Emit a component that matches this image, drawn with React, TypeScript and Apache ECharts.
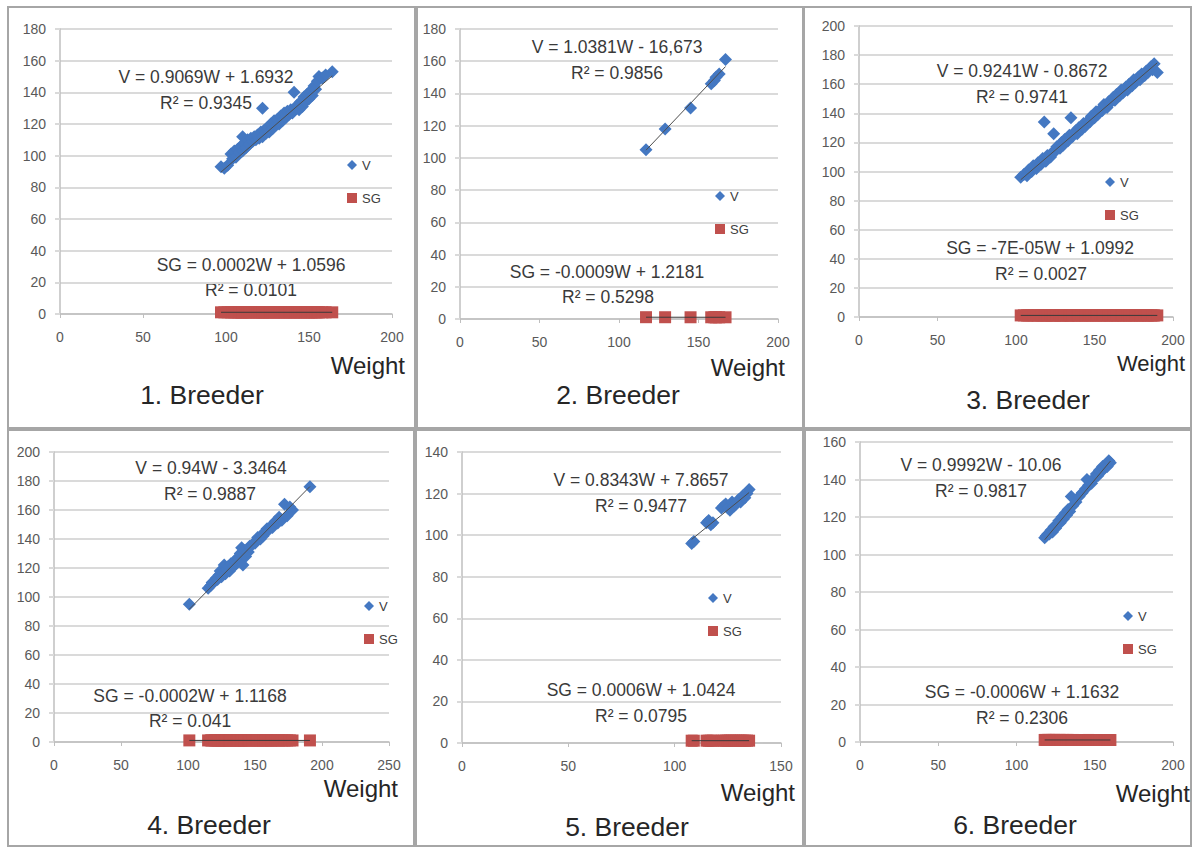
import React, { useEffect, useRef } from "react";
import * as echarts from "echarts";

// [weight, V, SG]
type Sample = [number, number, number];

const breeder1: Sample[] = [
  [97, 93, 1.07], [99, 92, 1.05], [101, 94, 1.08], [103, 101, 1.06], [104, 98, 1.04], [105, 103, 1.09],
  [106, 99, 1.06], [107, 104, 1.05], [108, 102, 1.08], [109, 106, 1.07], [110, 112, 1.03], [110, 103, 1.06],
  [111, 108, 1.09], [112, 105, 1.05], [113, 110, 1.08], [114, 107, 1.06], [115, 111, 1.04], [116, 109, 1.07],
  [117, 112, 1.09], [118, 110, 1.05], [119, 113, 1.08], [120, 111, 1.06], [121, 115, 1.07], [122, 130, 1.04],
  [122, 112, 1.09], [123, 116, 1.06], [124, 114, 1.08], [125, 118, 1.05], [126, 115, 1.07], [127, 120, 1.09],
  [128, 117, 1.06], [129, 122, 1.04], [130, 119, 1.08], [131, 123, 1.07], [132, 120, 1.05], [133, 125, 1.09],
  [134, 122, 1.06], [135, 127, 1.08], [136, 124, 1.05], [137, 128, 1.07], [138, 126, 1.09], [139, 129, 1.06],
  [140, 127, 1.04], [141, 140, 1.08], [142, 130, 1.07], [143, 132, 1.05], [144, 129, 1.09], [145, 134, 1.06],
  [146, 131, 1.08], [147, 137, 1.05], [148, 134, 1.07], [149, 139, 1.09], [150, 136, 1.06], [151, 141, 1.04],
  [152, 138, 1.08], [153, 144, 1.07], [154, 142, 1.05], [155, 147, 1.09], [156, 150, 1.06], [158, 149, 1.08],
  [160, 151, 1.07], [164, 153, 1.06],
];

const breeder2: Sample[] = [
  [117, 105, 1.12], [129, 118, 1.10], [145, 131, 1.08], [158, 146, 1.07],
  [160, 148, 1.08], [161, 150, 1.06], [163, 152, 1.07], [167, 161, 1.06],
];

const breeder3: Sample[] = [
  [103, 96, 1.09], [105, 98, 1.11], [107, 97, 1.08], [108, 101, 1.10], [110, 100, 1.12], [111, 104, 1.07],
  [113, 102, 1.09], [114, 106, 1.11], [116, 105, 1.08], [117, 109, 1.10], [118, 134, 1.06], [119, 107, 1.12],
  [120, 111, 1.09], [122, 110, 1.07], [123, 113, 1.11], [124, 126, 1.10], [125, 114, 1.08], [126, 117, 1.12],
  [128, 116, 1.09], [129, 120, 1.07], [130, 118, 1.11], [131, 122, 1.10], [133, 121, 1.08], [134, 125, 1.09],
  [135, 137, 1.12], [136, 124, 1.07], [138, 128, 1.10], [139, 126, 1.11], [140, 130, 1.08], [142, 129, 1.09],
  [143, 133, 1.12], [144, 131, 1.07], [146, 135, 1.10], [147, 134, 1.08], [148, 138, 1.11], [150, 137, 1.09],
  [151, 141, 1.07], [152, 139, 1.12], [154, 143, 1.10], [155, 142, 1.08], [156, 146, 1.09], [158, 144, 1.11],
  [159, 148, 1.07], [160, 147, 1.10], [162, 151, 1.12], [163, 149, 1.08], [164, 153, 1.09], [166, 152, 1.11],
  [167, 156, 1.07], [168, 154, 1.10], [170, 158, 1.08], [171, 156, 1.12], [172, 160, 1.09], [174, 159, 1.07],
  [175, 163, 1.11], [176, 161, 1.10], [178, 165, 1.08], [179, 163, 1.09], [180, 167, 1.12], [182, 166, 1.07],
  [183, 169, 1.10], [184, 168, 1.08], [186, 172, 1.11], [187, 170, 1.09], [188, 174, 1.07], [190, 168, 1.10],
];

const breeder4: Sample[] = [
  [101, 95, 1.10], [115, 106, 1.09], [117, 108, 1.11], [118, 110, 1.08], [120, 111, 1.10], [121, 113, 1.12],
  [122, 112, 1.09], [123, 115, 1.07], [124, 118, 1.11], [125, 114, 1.10], [126, 117, 1.08], [127, 122, 1.12],
  [128, 116, 1.09], [129, 119, 1.10], [130, 121, 1.07], [131, 118, 1.11], [132, 123, 1.09], [134, 121, 1.08],
  [135, 125, 1.12], [136, 123, 1.10], [137, 127, 1.09], [138, 126, 1.07], [139, 130, 1.11], [140, 134, 1.08],
  [141, 122, 1.10], [142, 132, 1.09], [143, 128, 1.12], [145, 131, 1.07], [146, 135, 1.10], [148, 136, 1.08],
  [150, 137, 1.11], [151, 139, 1.09], [152, 141, 1.07], [154, 140, 1.10], [155, 143, 1.12], [156, 142, 1.08],
  [158, 145, 1.09], [159, 147, 1.11], [160, 146, 1.07], [162, 149, 1.10], [163, 148, 1.08], [165, 152, 1.09],
  [167, 151, 1.11], [168, 155, 1.07], [170, 153, 1.10], [172, 164, 1.08], [174, 156, 1.09], [176, 162, 1.11],
  [178, 160, 1.07], [191, 176, 1.08],
];

const breeder5: Sample[] = [
  [108, 96, 1.11], [109, 97, 1.10], [115, 106, 1.12], [116, 107, 1.09], [117, 105, 1.11], [118, 106, 1.10],
  [122, 113, 1.13], [123, 114, 1.11], [124, 115, 1.12], [125, 113, 1.10], [126, 112, 1.13], [127, 116, 1.11],
  [128, 114, 1.12], [129, 115, 1.14], [130, 117, 1.11], [131, 116, 1.13], [132, 119, 1.12], [133, 118, 1.10],
  [134, 120, 1.13], [135, 122, 1.12],
];

const breeder6: Sample[] = [
  [118, 109, 1.10], [119, 110, 1.09], [120, 111, 1.11], [121, 111, 1.10], [122, 113, 1.08], [123, 112, 1.10],
  [124, 115, 1.09], [125, 114, 1.11], [126, 116, 1.08], [127, 118, 1.09], [128, 117, 1.10], [129, 120, 1.07],
  [130, 119, 1.09], [131, 122, 1.08], [132, 121, 1.10], [133, 124, 1.09], [134, 123, 1.07], [135, 131, 1.08],
  [136, 126, 1.09], [138, 128, 1.07], [140, 131, 1.08], [142, 133, 1.06], [144, 135, 1.08], [145, 140, 1.07],
  [146, 137, 1.09], [147, 139, 1.06], [148, 138, 1.07], [150, 141, 1.08], [151, 143, 1.06], [152, 142, 1.07],
  [153, 145, 1.05], [154, 144, 1.08], [155, 147, 1.06], [156, 146, 1.07], [157, 148, 1.05], [158, 147, 1.07],
  [159, 150, 1.06], [160, 149, 1.05],
];

const breeders: Sample[][] = [breeder1, breeder2, breeder3, breeder4, breeder5, breeder6];

const panelTitles = ["1. Breeder", "2. Breeder", "3. Breeder", "4. Breeder", "5. Breeder", "6. Breeder"];
const xMaxes = [200, 200, 200, 250, 150, 200];
const yMaxes = [180, 180, 200, 200, 140, 160];
const xInterval = 50;
const yInterval = 20;

// [slope, intercept] of the trendlines printed on the chart
const vFits: [number, number][] = [
  [0.9069, 1.6932], [1.0381, -16.673], [0.9241, -0.8672], [0.94, -3.3464], [0.8343, 7.8657], [0.9992, -10.06],
];
const sgFits: [number, number][] = [
  [0.0002, 1.0596], [-0.0009, 1.2181], [-0.00007, 1.0992], [-0.0002, 1.1168], [0.0006, 1.0424], [-0.0006, 1.1632],
];
const vEquations = [
  "V = 0.9069W + 1.6932", "V = 1.0381W - 16,673", "V = 0.9241W - 0.8672",
  "V = 0.94W - 3.3464", "V = 0.8343W + 7.8657", "V = 0.9992W - 10.06",
];
const vR2 = ["R² = 0.9345", "R² = 0.9856", "R² = 0.9741", "R² = 0.9887", "R² = 0.9477", "R² = 0.9817"];
const sgEquations = [
  "SG = 0.0002W + 1.0596", "SG = -0.0009W + 1.2181", "SG = -7E-05W + 1.0992",
  "SG = -0.0002W + 1.1168", "SG = 0.0006W + 1.0424", "SG = -0.0006W + 1.1632",
];
const sgR2 = ["R² = 0.0101", "R² = 0.5298", "R² = 0.0027", "R² = 0.041", "R² = 0.0795", "R² = 0.2306"];
const xAxisName = "Weight";

// layout (pixels)
const layout = [
  { grid: { left: 60, top: 29, width: 332, height: 285 }, box: [8, 7, 407, 421], vEq: [206, 77], vR: [206, 103], sgEq: [251, 265], sgR: [251, 290], legend: [347, 165], weight: [405, 365, 24], title: [202, 395] },
  { grid: { left: 460, top: 29, width: 318, height: 290 }, box: [417, 7, 386, 421], vEq: [617, 47], vR: [617, 73], sgEq: [607, 272], sgR: [608, 297], legend: [715, 196], weight: [785, 367, 24], title: [618, 395] },
  { grid: { left: 859, top: 26, width: 314, height: 291 }, box: [804, 7, 387, 421], vEq: [1022, 71], vR: [1022, 97], sgEq: [1040, 248], sgR: [1041, 274], legend: [1105, 182], weight: [1185, 363, 22], title: [1028, 400] },
  { grid: { left: 54, top: 452, width: 335, height: 290 }, box: [8, 430, 406, 416], vEq: [211, 468], vR: [210, 494], sgEq: [190, 696], sgR: [190, 721], legend: [364, 606], weight: [398, 788, 24], title: [209, 825] },
  { grid: { left: 462, top: 452, width: 319, height: 291 }, box: [416, 430, 387, 416], vEq: [641, 480], vR: [641, 506], sgEq: [641, 690], sgR: [641, 716], legend: [708, 598], weight: [795, 792, 24], title: [627, 827] },
  { grid: { left: 860, top: 442, width: 313, height: 300 }, box: [805, 430, 386, 416], vEq: [981, 465], vR: [981, 491], sgEq: [1022, 692], sgR: [1022, 718], legend: [1123, 616], weight: [1190, 793, 24], title: [1015, 825] },
];

const FONT = "'Liberation Sans', Arial, sans-serif";
const BLUE = "#4478c2";
const RED = "#c0504d";

function text(x: number, y: number, t: string, size: number, align: string, color = "#3a3a3a") {
  return {
    type: "text",
    x,
    y,
    silent: true,
    style: {
      text: t,
      fontSize: size,
      fontFamily: FONT,
      fill: color,
      align,
      verticalAlign: "middle",
      textAlign: align,
      textVerticalAlign: "middle",
    },
  };
}

export default function App() {
  const ref = useRef<HTMLDivElement>(null);

  useEffect(() => {
    if (!ref.current) return;
    const chart = echarts.init(ref.current, undefined, { renderer: "svg" });

    const grids: any[] = [];
    const xAxes: any[] = [];
    const yAxes: any[] = [];
    const series: any[] = [];
    const legends: any[] = [];
    const graphics: any[] = [];

    breeders.forEach((samples, i) => {
      const L = layout[i];
      grids.push({ ...L.grid, containLabel: false });
      xAxes.push({
        type: "value",
        gridIndex: i,
        min: 0,
        max: xMaxes[i],
        interval: xInterval,
        splitLine: { show: false },
        axisLine: { show: true, onZero: true, lineStyle: { color: "#bfbfbf", width: 1.5 } },
        axisTick: { show: true, length: 4, lineStyle: { color: "#bfbfbf" } },
        axisLabel: { fontSize: 14, fontFamily: FONT, color: "#595959", margin: 16 },
      });
      yAxes.push({
        type: "value",
        gridIndex: i,
        min: 0,
        max: yMaxes[i],
        interval: yInterval,
        splitLine: { show: true, lineStyle: { color: "#dadada", width: 2 } },
        axisLine: { show: true, lineStyle: { color: "#bfbfbf", width: 1.5 } },
        axisTick: { show: true, length: 5, lineStyle: { color: "#dadada", width: 2 } },
        axisLabel: { fontSize: 14, fontFamily: FONT, color: "#595959", margin: 14 },
      });

      const ws = samples.map((s) => s[0]);
      const wMin = Math.min(...ws);
      const wMax = Math.max(...ws);
      const [vs, vi] = vFits[i];
      const [ss, si] = sgFits[i];

      series.push({
        type: "scatter",
        name: "V",
        xAxisIndex: i,
        yAxisIndex: i,
        symbol: "diamond",
        symbolSize: 13,
        itemStyle: { color: BLUE, opacity: 1 },
        data: samples.map((s) => [s[0], s[1]]),
        z: 2,
      });
      series.push({
        type: "scatter",
        name: "SG",
        xAxisIndex: i,
        yAxisIndex: i,
        symbol: "rect",
        symbolSize: 12,
        itemStyle: { color: RED, opacity: 1 },
        data: samples.map((s) => [s[0], s[2]]),
        z: 2,
      });
      series.push({
        type: "line",
        name: "V trend",
        xAxisIndex: i,
        yAxisIndex: i,
        showSymbol: false,
        symbol: "none",
        silent: true,
        lineStyle: { color: "#4d4d4d", width: 1 },
        data: [[wMin, vs * wMin + vi], [wMax, vs * wMax + vi]],
        z: 3,
      });
      series.push({
        type: "line",
        name: "SG trend",
        xAxisIndex: i,
        yAxisIndex: i,
        showSymbol: false,
        symbol: "none",
        silent: true,
        lineStyle: { color: "#3a3a3a", width: 1 },
        data: [[wMin, ss * wMin + si], [wMax, ss * wMax + si]],
        z: 3,
      });

      legends.push({
        orient: "vertical",
        left: L.legend[0],
        top: L.legend[1] - 7,
        padding: 0,
        itemWidth: 10,
        itemHeight: 10,
        itemGap: 19,
        selectedMode: false,
        itemStyle: { opacity: 1 },
        textStyle: { fontSize: 13, fontFamily: FONT, color: "#404040", lineHeight: 14, padding: [0, 0, 0, 0] },
        data: [
          { name: "V", icon: "diamond" },
          { name: "SG", icon: "rect" },
        ],
      });

      const [bx, by, bw, bh] = L.box;
      graphics.push({
        type: "rect",
        shape: { x: bx, y: by, width: bw, height: bh },
        style: { fill: "none", stroke: "#a6a6a6", lineWidth: 2 },
        silent: true,
        z: 0,
      });
      graphics.push(text(L.vEq[0], L.vEq[1], vEquations[i], 17.5, "center"));
      graphics.push(text(L.vR[0], L.vR[1], vR2[i], 17.5, "center"));
      graphics.push(text(L.sgEq[0], L.sgEq[1], sgEquations[i], 17.5, "center"));
      graphics.push(text(L.sgR[0], L.sgR[1], sgR2[i], 17.5, "center"));
      graphics.push(text(L.weight[0], L.weight[1], xAxisName, L.weight[2], "right", "#262626"));
      graphics.push(text(L.title[0], L.title[1], panelTitles[i], 26.5, "center", "#262626"));
    });

    chart.setOption({
      animation: false,
      backgroundColor: "#ffffff",
      grid: grids,
      xAxis: xAxes,
      yAxis: yAxes,
      legend: legends,
      series,
      graphic: { elements: graphics },
    });

    return () => chart.dispose();
  }, []);

  return (
    <div
      ref={ref}
      style={{ position: "absolute", left: 0, top: 0, width: 1194, height: 847 }}
    />
  );
}
